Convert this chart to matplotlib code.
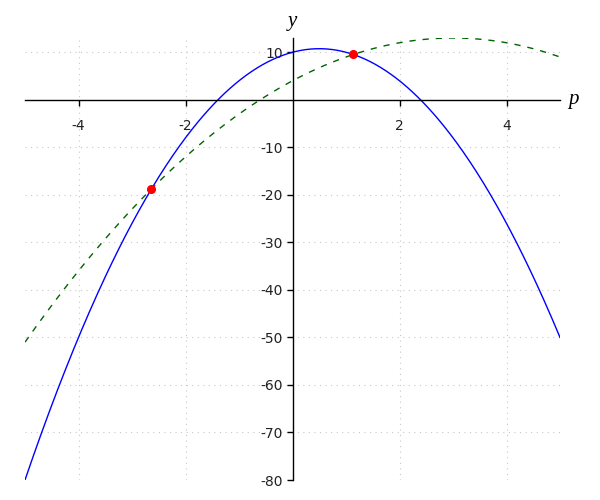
import numpy as np
import matplotlib
matplotlib.use("Agg")
import matplotlib.pyplot as plt

plt.rcParams['axes.unicode_minus'] = False

# coefficients (highest power first)
blue_coef = [-3, 3, 10]
green_coef = [-1, 6, 4]
x_range = [-5, 5]

# intersection points (red dots)
pts_x = [-2.637, 1.137]
pts_y = [-18.77, 9.53]

x_ticks = [-4, -2, 2, 4]
y_ticks = [10, -10, -20, -30, -40, -50, -60, -70, -80]

x = np.linspace(x_range[0], x_range[1], 400)

fig = plt.figure(figsize=(6, 5), dpi=100)
ax = fig.add_axes([25/600, 20/500, 535/600, 442/500])

ax.plot(x, np.polyval(blue_coef, x), color='blue', lw=1)
ax.plot(x, np.polyval(green_coef, x), color='darkgreen', lw=1, ls=(0, (4.5, 5)))
ax.plot(pts_x, pts_y, 'o', color='red', markersize=5.5, zorder=5)

ax.set_xlim(-5, 5)
ax.set_ylim(-80, 13)

# axes through the origin
ax.spines['left'].set_position(('data', 0))
ax.spines['bottom'].set_position(('data', 0))
ax.spines['top'].set_visible(False)
ax.spines['right'].set_visible(False)
for s in ['left', 'bottom']:
    ax.spines[s].set_linewidth(1)

ax.set_xticks(x_ticks)
ax.set_yticks(y_ticks)
ax.tick_params(direction='out', length=4, width=1, labelsize=10, colors='black',
               labelcolor='#222222')
ax.tick_params(axis='y', pad=3)
ax.tick_params(axis='x', pad=10)

# dotted grid
for xv in x_ticks:
    ax.axvline(xv, color='#c8c8c8', ls=(0, (1, 4)), lw=0.8, zorder=0)
for yv in y_ticks:
    ax.axhline(yv, color='#c8c8c8', ls=(0, (1, 4)), lw=0.8, zorder=0)

ax.text(0, 14.5, 'y', family='Liberation Serif', style='italic', fontsize=15,
        ha='center', va='bottom')
ax.text(5.15, 0, 'p', family='Liberation Serif', style='italic', fontsize=15,
        ha='left', va='center')

plt.savefig('out.png', dpi=100)
